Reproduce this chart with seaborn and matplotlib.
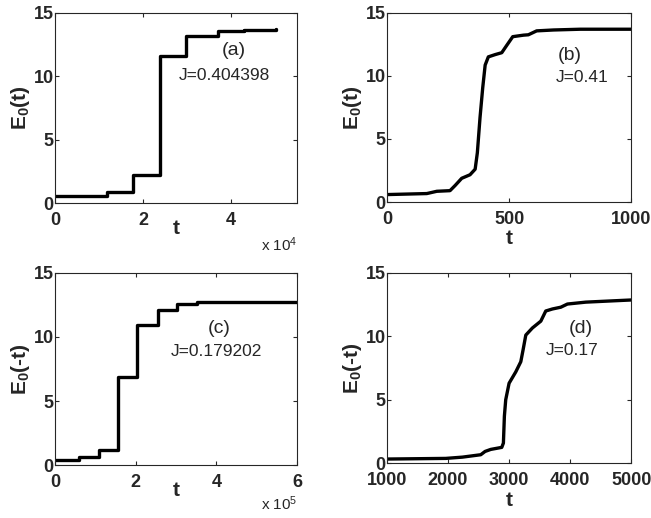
import numpy as np
import pandas as pd
import matplotlib
matplotlib.use("Agg")
import matplotlib.pyplot as plt
import seaborn as sns
from matplotlib.ticker import FuncFormatter

# panel (a): step curve, t in units of 1e4
t_a = [0, 1.17, 1.77, 2.38, 2.98, 3.70, 4.30, 5.02]
e_a = [0.55, 0.85, 2.2, 11.6, 13.2, 13.55, 13.65, 13.7]

# panel (b): smooth curve
t_b = [0, 163, 204, 258, 279, 306, 340, 361, 370, 381, 392, 402, 415, 443, 470,
       490, 515, 559, 579, 613, 682, 792, 1000]
e_b = [0.59, 0.67, 0.85, 0.9, 1.31, 1.88, 2.16, 2.6, 3.9, 6.7, 9.05, 10.85, 11.5,
       11.68, 11.83, 12.4, 13.1, 13.22, 13.25, 13.56, 13.63, 13.69, 13.69]

# panel (c): step curve, t in units of 1e5
t_c = [0, 0.60, 1.10, 1.57, 2.04, 2.54, 3.03, 3.52, 4.01, 6.0]
e_c = [0.39, 0.6, 1.19, 6.9, 10.9, 12.1, 12.56, 12.7, 12.77, 12.77]

# panel (d): smooth curve
t_d = [1000, 1962, 2235, 2536, 2607, 2700, 2880, 2907, 2923, 2945, 3000, 3110, 3192,
       3230, 3274, 3382, 3520, 3601, 3710, 3847, 3956, 4257, 4693, 5000]
e_d = [0.32, 0.37, 0.47, 0.66, 0.92, 1.08, 1.24, 1.58, 3.7, 5.0, 6.3, 7.2, 8.0,
       8.95, 10.1, 10.66, 11.2, 12.0, 12.16, 12.3, 12.55, 12.7, 12.8, 12.87]

sns.set_style("ticks")
plt.rcParams['font.family'] = ['Liberation Sans', 'DejaVu Sans']
plt.rcParams['mathtext.fontset'] = 'custom'
plt.rcParams['mathtext.bf'] = 'Liberation Sans:bold'
plt.rcParams['mathtext.rm'] = 'Liberation Sans'
plt.rcParams['mathtext.default'] = 'bf'

fig = plt.figure(figsize=(6.51, 5.18), dpi=100)
ax_a = fig.add_axes([0.0845, 0.608, 0.372, 0.3675])
ax_b = fig.add_axes([0.5945, 0.610, 0.375, 0.3655])
ax_c = fig.add_axes([0.0845, 0.1023, 0.372, 0.3707])
ax_d = fig.add_axes([0.5945, 0.106, 0.375, 0.367])

panels = [
    (ax_a, np.array(t_a) * 1e4, e_a, 'steps-post', (0, 5.5e4), [0, 2e4, 4e4], 1e4,
     r'E$_0$(t)', '(a)', 'J=0.404398', r'x 10$^\mathregular{4}$', -7, -0.22),
    (ax_b, t_b, e_b, 'default', (0, 1000), [0, 500, 1000], 1,
     r'E$_0$(t)', '(b)', 'J=0.41', None, 1, 0),
    (ax_c, np.array(t_c) * 1e5, e_c, 'steps-post', (0, 6e5), [0, 2e5, 4e5, 6e5], 1e5,
     r'E$_0$(-t)', '(c)', 'J=0.179202', r'x 10$^\mathregular{5}$', -7, -0.20),
    (ax_d, t_d, e_d, 'default', (1000, 5000), [1000, 2000, 3000, 4000, 5000], 1,
     r'E$_0$(-t)', '(d)', 'J=0.17', None, 1, 0),
]

label_pos = {'(a)': (0.74, 0.80), '(b)': (0.75, 0.775), '(c)': (0.68, 0.71), '(d)': (0.795, 0.71)}
j_pos = {'(a)': (0.70, 0.67), '(b)': (0.80, 0.66), '(c)': (0.665, 0.59), '(d)': (0.76, 0.59)}

for ax, t, e, ds, xlim, xticks, scale, ylab, tag, jtxt, offset, tpad, oy in panels:
    df = pd.DataFrame({'t': t, 'E': e})
    sns.lineplot(data=df, x='t', y='E', ax=ax, color='black', linewidth=2.4,
                 drawstyle=ds, sort=False)
    ax.set_xlim(xlim)
    ax.set_ylim(0, 15)
    ax.set_xticks(xticks)
    ax.set_yticks([0, 5, 10, 15])
    ax.xaxis.set_major_formatter(FuncFormatter(lambda v, p, s=scale: '%g' % (v / s)))
    ax.tick_params(direction='in', length=3, width=0.8, top=True, right=True,
                   labelsize=13)
    ax.tick_params(axis='x', pad=6.5)
    ax.tick_params(axis='y', pad=1)
    for lab in ax.get_xticklabels() + ax.get_yticklabels():
        lab.set_fontweight('bold')
    for sp in ax.spines.values():
        sp.set_linewidth(0.8)
        sp.set_visible(True)
    ax.set_xlabel('t', fontsize=15, fontweight='bold', labelpad=tpad)
    ax.set_ylabel(ylab, fontsize=15, fontweight='bold', labelpad=1)
    ax.text(*label_pos[tag], tag, transform=ax.transAxes, fontsize=14, ha='center', va='center')
    ax.text(*j_pos[tag], jtxt, transform=ax.transAxes, fontsize=12.5, ha='center', va='center')
    if offset:
        ax.text(1.0, oy, offset, transform=ax.transAxes, fontsize=11,
                ha='right', va='center')

fig.savefig('out.png', dpi=100)
